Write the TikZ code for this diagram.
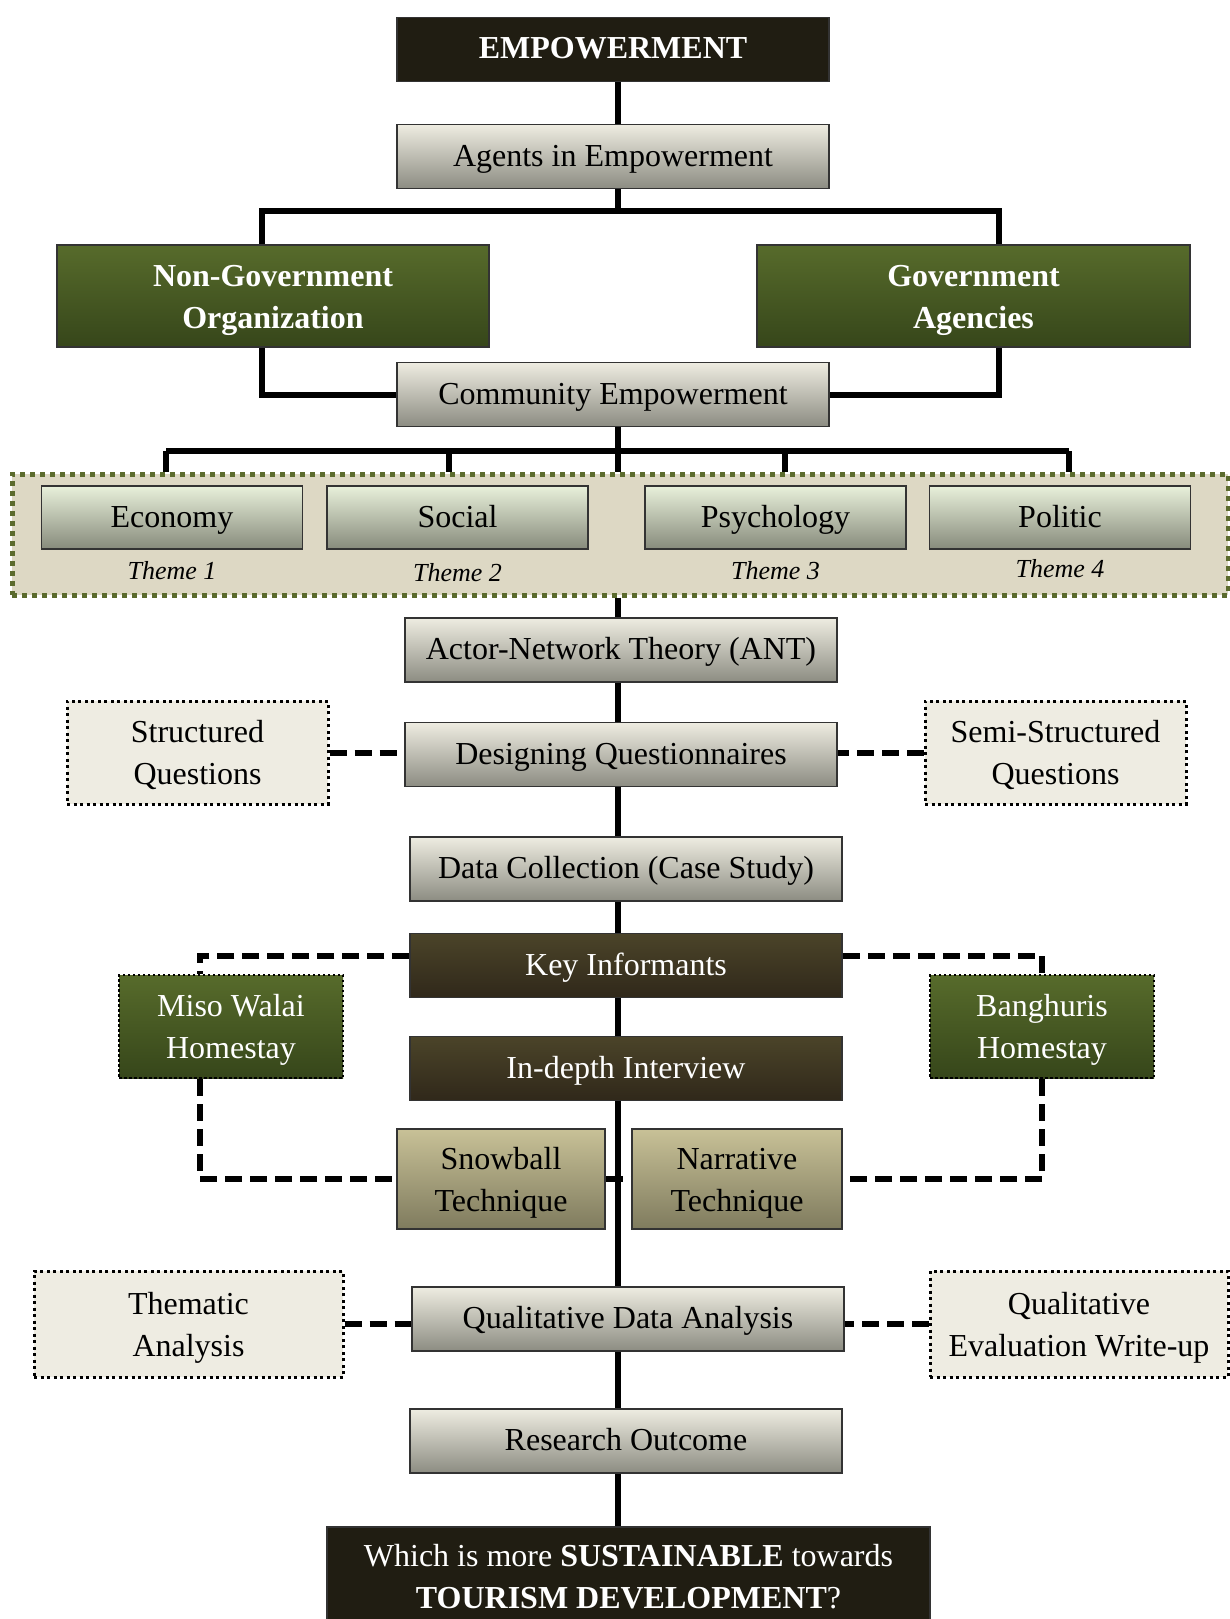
\documentclass[tikz,border=0pt]{standalone}
\usepackage{fontspec}
\setmainfont{Liberation Serif}
\usepackage{xcolor}
\usepackage{tikz}
\usetikzlibrary{calc}
\usetikzlibrary{positioning}
\usetikzlibrary{backgrounds}

\definecolor{darkfill}{HTML}{201D12}
\definecolor{greytop}{HTML}{EEECE1}
\definecolor{greybot}{HTML}{8C8C82}
\definecolor{greentop}{HTML}{576B2B}
\definecolor{greenbot}{HTML}{36461A}
\definecolor{themetop}{HTML}{E8F0DA}
\definecolor{themebot}{HTML}{878B7C}
\definecolor{framefill}{HTML}{DDD8C4}
\definecolor{framegreen}{HTML}{5B6B2D}
\definecolor{browntop}{HTML}{4B4429}
\definecolor{brownbot}{HTML}{30281A}
\definecolor{khakitop}{HTML}{C8C197}
\definecolor{khakibot}{HTML}{7F7B5E}
\definecolor{notefill}{HTML}{EEECE2}

\newcommand{\boxfont}{\fontsize{32}{42}\selectfont}
\newcommand{\themefont}{\fontsize{26}{30}\selectfont\itshape}

\tikzset{
    flowbox/.style={draw=black!80, line width=1.5pt, inner sep=0pt, align=center,
        minimum width=432pt, minimum height=64pt, font=\boxfont},
    oneline/.style={text height=26pt, text depth=7pt},
    twoline/.style={text height=71pt, text depth=7pt},
    greybox/.style={flowbox, oneline, top color=greytop, bottom color=greybot},
    darkbox/.style={flowbox, fill=darkfill, text=white, font=\boxfont\bfseries},
    greenbox/.style={flowbox, twoline, top color=greentop, bottom color=greenbot, text=white},
    themebox/.style={flowbox, oneline, minimum width=261pt, minimum height=63pt,
        top color=themetop, bottom color=themebot},
    themelabel/.style={inner sep=0pt, font=\themefont},
    brownbox/.style={flowbox, oneline, top color=browntop, bottom color=brownbot, text=white},
    khakibox/.style={flowbox, twoline, top color=khakitop, bottom color=khakibot,
        minimum width=208pt, minimum height=100pt},
    notebox/.style={flowbox, twoline, fill=notefill, draw=black, line width=3pt,
        dash pattern=on 3pt off 3.5pt, minimum width=261pt, minimum height=103pt},
    homestay/.style={greenbox, draw=black, line width=2.5pt,
        dash pattern=on 2.5pt off 2.5pt, minimum width=224pt, minimum height=103pt},
    themeframe/.style={draw=framegreen, fill=framefill, line width=5pt,
        dash pattern=on 5pt off 5pt, inner sep=0pt, minimum width=1216pt, minimum height=121pt},
    trunkline/.style={line width=6pt, black},
    dashline/.style={line width=6pt, black, dash pattern=on 17pt off 8pt}
}

\begin{document}
\begin{tikzpicture}[x=1pt, y=-1pt]

    \useasboundingbox (0,0) rectangle (1229,1619);
    \coordinate (trunk) at (618,0);
    \coordinate (misodrop) at (200,0);

    \node [darkbox, oneline] (emp) at (613,49.5) {EMPOWERMENT};
    \node [greybox] (agents) at (613,156.5) {Agents in Empowerment};

    \node [greenbox, font=\boxfont\bfseries, minimum height=102pt] (ngo) at (273,296)
    {Non-Government\\Organization};
    \node [greenbox, font=\boxfont\bfseries, minimum width=433pt, minimum height=102pt] (gov)
    at (973.5,296) {Government\\Agencies};

    \node [greybox] (comm) at (613,394.5) {Community Empowerment};

    % the four themes
    \node [themeframe] (frame) at (620,534.5) {};
    \foreach \name/\txt/\x/\dx/\k/\dy in {eco/Economy/172/-6/1/21, soc/Social/457.5/-8.5/2/23,
        psy/Psychology/775.5/9.5/3/21, pol/Politic/1060/9/4/19} {
        \node [themebox] (\name) at (\x,517.5) {\txt};
        \node [themelabel] (\name-t) at ([yshift=-\dy pt]\name.south) {Theme \k};
        \coordinate (\name-d) at (\x+\dx,451);
    }

    \node [greybox] (ant) at (621,650) {Actor-Network Theory (ANT)};
    \node [greybox] (design) at (621,754.5) {Designing Questionnaires};
    \node [notebox] (sq) at (197.5,752.5) {Structured\\Questions};
    \node [notebox] (ssq) at (1055.5,752.5) {Semi-Structured\\Questions};

    \node [greybox] (data) at (626,869) {Data Collection (Case Study)};
    \node [brownbox] (key) at (626,965.5) {Key Informants};
    \node [brownbox] (indepth) at (626,1068.5) {In-depth Interview};
    \node [homestay] (miso) at (231,1026.5) {Miso Walai\\Homestay};
    \node [homestay] (bang) at (1042,1026.5) {Banghuris\\Homestay};
    \node [khakibox] (snow) at (501,1179) {Snowball\\Technique};
    \node [khakibox, minimum width=210pt] (narr) at (737,1179) {Narrative\\Technique};

    \node [greybox] (qda) at (628,1319) {Qualitative Data Analysis};
    \node [notebox, minimum width=309pt, minimum height=106pt] (them) at (188.5,1324)
    {Thematic\\Analysis};
    \node [notebox, minimum width=298pt, minimum height=106pt] (qew) at (1079,1324)
    {Qualitative\\Evaluation Write-up};

    \node [greybox] (outcome) at (626,1441) {Research Outcome};
    \node [darkbox, font=\boxfont, minimum width=603pt, minimum height=100pt] (final)
    at (628.5,1577) {Which is more \textbf{SUSTAINABLE} towards\\\textbf{TOURISM DEVELOPMENT}?};

    \begin{scope}[on background layer]
        \foreach \a/\b in {emp/agents, frame/ant, ant/design, design/data, data/key,
            key/indepth, indepth/qda, qda/outcome, outcome/final}
            \draw [trunkline] (\a.south -| trunk) -- (\b.north -| trunk);

        \draw [trunkline] (agents.south -| trunk) -- ++(0,22) coordinate (agentsbus);
        \draw [trunkline] ([xshift=-11pt]ngo.north) |- (agentsbus)
        -| ([xshift=25.5pt]gov.north);
        \draw [trunkline] ([xshift=-11pt]ngo.south) |- (comm.west);
        \draw [trunkline] ([xshift=25.5pt]gov.south) |- (comm.east);

        \draw [trunkline] (comm.south -| trunk) -- (trunk |- frame.north);
        \draw [trunkline] (eco-d) -- (pol-d);
        \foreach \name in {eco, soc, psy, pol}
            \draw [trunkline] (\name-d) -- (\name-d |- frame.north);

        \draw [dashline] (sq.east) -- (sq.east -| design.west);
        \draw [dashline] (ssq.west) -- (ssq.west -| design.east);

        \draw [dashline] ([yshift=10pt]key.west) -| (misodrop |- miso.north);
        \draw [dashline] (misodrop |- miso.south) |- (snow.west);
        \draw [dashline] ([yshift=10pt]key.east) -| (bang.north);
        \draw [dashline] (bang.south) |- (narr.east);
        \draw [dashline] (snow.east) -- (narr.west);

        \draw [dashline] (them.east) -- (them.east -| qda.west);
        \draw [dashline] (qew.west) -- (qew.west -| qda.east);
    \end{scope}

\end{tikzpicture}
\end{document}
